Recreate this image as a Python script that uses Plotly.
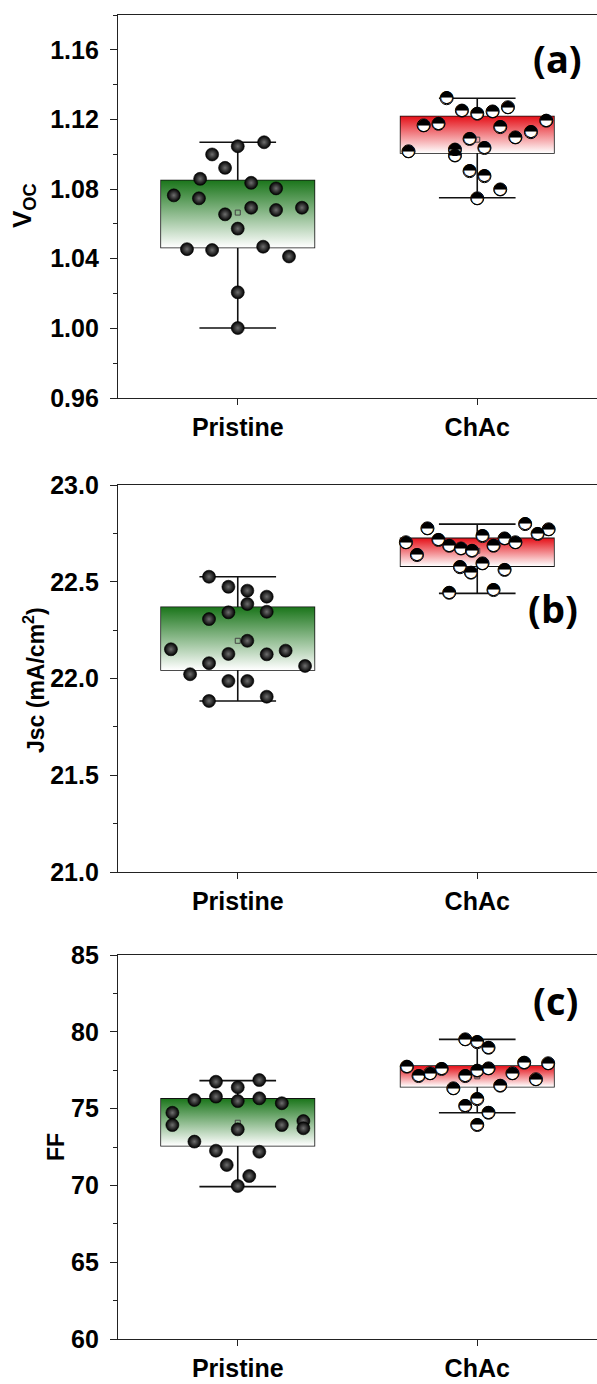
import plotly.graph_objects as go
from plotly.subplots import make_subplots

categories = ["Pristine", "ChAc"]
cat_pos = [1, 2]

# ---- Voc ----
voc_pristine = [1.1069, 1.1046, 1.0999, 1.0922, 1.0859, 1.0836, 1.0804, 1.0764, 1.0747, 1.0693,
                1.0680, 1.0693, 1.0655, 1.0573, 1.0455, 1.0450, 1.0469, 1.0413, 1.0207, 1.0002]
voc_pristine_jit = [0.110, 0.0, -0.107, -0.053, -0.157, 0.056, 0.160, -0.267, -0.162, 0.056,
                    0.160, 0.268, -0.053, 0.0, -0.212, -0.107, 0.106, 0.214, 0.0, 0.0]
voc_chac = [1.1322, 1.1251, 1.1233, 1.1246, 1.1270, 1.1166, 1.1175, 1.1156, 1.1193, 1.1127,
            1.1097, 1.1088, 1.1017, 1.1027, 1.0993, 1.1036, 1.0903, 1.0874, 1.0798, 1.0747]
voc_chac_jit = [-0.128, -0.064, 0.0, 0.064, 0.128, -0.224, -0.162, 0.096, 0.288, 0.224,
                0.159, -0.032, -0.287, -0.093, -0.093, 0.030, -0.032, 0.030, 0.096, 0.0]
voc_q1 = [1.0465, 1.1007]
voc_median = [1.0693, 1.1109]
voc_q3 = [1.0849, 1.1217]
voc_low = [1.0002, 1.0750]
voc_high = [1.1069, 1.1322]
voc_mean = [1.0665, 1.1084]

# ---- Jsc ----
jsc_pristine = [22.526, 22.474, 22.454, 22.423, 22.385, 22.342, 22.345, 22.307, 22.195, 22.151,
                22.127, 22.125, 22.144, 22.079, 22.065, 22.022, 21.987, 21.987, 21.884, 21.906]
jsc_pristine_jit = [-0.120, -0.039, 0.040, 0.121, 0.040, -0.039, 0.121, -0.120, 0.040, -0.279,
                    -0.039, 0.121, 0.200, -0.120, 0.281, -0.199, -0.039, 0.040, -0.120, 0.121]
jsc_chac = [22.776, 22.798, 22.771, 22.747, 22.704, 22.716, 22.736, 22.724, 22.704, 22.686,
            22.672, 22.660, 22.686, 22.638, 22.575, 22.547, 22.595, 22.561, 22.443, 22.457]
jsc_chac_jit = [-0.208, 0.200, 0.298, 0.252, -0.298, -0.162, 0.022, 0.114, 0.159, -0.117,
                -0.068, -0.022, 0.068, -0.252, -0.072, -0.026, 0.022, 0.114, -0.117, 0.068]
jsc_q1 = [22.044, 22.581]
jsc_median = [22.144, 22.686]
jsc_q3 = [22.368, 22.724]
jsc_low = [21.884, 22.440]
jsc_high = [22.526, 22.798]
jsc_mean = [22.195, 22.660]

# ---- FF ----
ff_pristine = [76.75, 76.86, 76.39, 75.56, 75.78, 75.49, 75.67, 75.35, 74.73, 73.93,
               73.65, 73.93, 74.19, 73.72, 72.85, 72.26, 72.19, 71.33, 70.61, 69.96]
ff_pristine_jit = [-0.091, 0.090, 0.0, -0.181, -0.091, 0.0, 0.090, 0.184, -0.273, -0.273,
                   0.0, 0.184, 0.274, 0.274, -0.181, -0.091, 0.090, -0.046, 0.048, 0.0]
ff_chac = [79.51, 79.32, 78.96, 77.73, 77.12, 77.30, 77.58, 77.12, 77.47, 77.62,
           77.30, 77.99, 77.95, 76.91, 76.32, 76.49, 75.61, 75.17, 74.73, 73.93]
ff_chac_jit = [-0.050, 0.0, 0.047, -0.294, -0.245, -0.197, -0.149, -0.050, 0.0, 0.047,
               0.147, 0.196, 0.296, 0.245, -0.100, 0.096, 0.0, -0.050, 0.047, 0.0]
ff_q1 = [72.58, 76.43]
ff_median = [74.00, 77.30]
ff_q3 = [75.63, 77.77]
ff_low = [69.92, 74.73]
ff_high = [76.82, 79.51]
ff_mean = [74.08, 77.10]

# ---- styling ----
FONT = "Liberation Sans, Arial, sans-serif"
BOX_W = 0.64
GREEN_SCALE = [[0, "#ffffff"], [1, "#1c761c"]]
RED_SCALE = [[0, "#ffffff"], [1, "#e5121a"]]
W, H = 597.0, 1384.0
ML = 118.0
PW = W - ML

fig = make_subplots(rows=3, cols=1)

panels = [
    (1, voc_pristine, voc_pristine_jit, voc_chac, voc_chac_jit, voc_q1, voc_median, voc_q3, voc_low, voc_high, voc_mean),
    (2, jsc_pristine, jsc_pristine_jit, jsc_chac, jsc_chac_jit, jsc_q1, jsc_median, jsc_q3, jsc_low, jsc_high, jsc_mean),
    (3, ff_pristine, ff_pristine_jit, ff_chac, ff_chac_jit, ff_q1, ff_median, ff_q3, ff_low, ff_high, ff_mean),
]

for row, p_vals, p_jit, c_vals, c_jit, q1, med, q3, lo, hi, mean in panels:
    for i, scale in enumerate([GREEN_SCALE, RED_SCALE]):
        c = cat_pos[i]
        hw = BOX_W / 2
        fig.add_trace(go.Scatter(
            x=[c - hw, c + hw, c + hw, c - hw, c - hw],
            y=[q1[i], q1[i], q3[i], q3[i], q1[i]],
            mode="lines", line=dict(width=0), fill="toself",
            fillgradient=dict(type="vertical", colorscale=scale),
            hoverinfo="skip"), row=row, col=1)
        fig.add_trace(go.Box(
            x=[c], q1=[q1[i]], median=[med[i]], q3=[q3[i]],
            lowerfence=[lo[i]], upperfence=[hi[i]],
            width=BOX_W, whiskerwidth=0.5, boxpoints=False,
            fillcolor="rgba(0,0,0,0)", line=dict(color="#111111", width=1.6)), row=row, col=1)
        fig.add_trace(go.Scatter(
            x=[c], y=[mean[i]], mode="markers",
            marker=dict(symbol="square-open", size=5, color="#444444", line=dict(width=1))),
            row=row, col=1)
    # pristine: shaded black spheres
    fig.add_trace(go.Scatter(
        x=[cat_pos[0] + j for j in p_jit], y=p_vals, mode="markers",
        marker=dict(size=13, color="#000000", gradient=dict(type="radial", color="#6e6e6e"),
                    line=dict(width=0.6, color="#000000"))), row=row, col=1)
    # ChAc: half black / half white circles
    cx = [cat_pos[1] + j for j in c_jit]
    fig.add_trace(go.Scatter(
        x=cx, y=c_vals, mode="markers",
        marker=dict(size=13, color="#ffffff", line=dict(width=1, color="#000000"))), row=row, col=1)
    fig.add_trace(go.Scatter(
        x=cx, y=c_vals, mode="text", text=["\u25d3"] * len(c_vals),
        textposition="middle center",
        textfont=dict(family="DejaVu Sans", size=17, color="#000000")), row=row, col=1)

domains = [(15, 398), (485, 872), (955, 1339)]
yranges = [(0.96, 1.18), (21.0, 23.0), (60, 85)]
ydticks = [0.04, 0.5, 5]
yformats = [".2f", ".1f", "d"]

for k in range(3):
    top, bot = domains[k]
    fig.update_xaxes(
        range=[0.5, 2.5], tickvals=cat_pos, ticktext=categories,
        ticks="outside", ticklen=6, tickwidth=1.3, tickcolor="#222222",
        showline=True, linecolor="#222222", linewidth=1.3, mirror=True,
        showgrid=False, zeroline=False, ticklabelstandoff=1,
        tickfont=dict(family=FONT, size=25, color="#000000", weight="bold"),
        row=k + 1, col=1)
    fig.update_yaxes(
        domain=[1 - bot / H, 1 - top / H],
        range=list(yranges[k]), dtick=ydticks[k], tick0=yranges[k][0], tickformat=yformats[k],
        ticks="outside", ticklen=7, tickwidth=1.3, tickcolor="#222222",
        minor=dict(ticks="outside", ticklen=4, dtick=ydticks[k] / 2, tickcolor="#222222", tickwidth=1.3),
        showline=True, linecolor="#222222", linewidth=1.3, mirror=False,
        showgrid=False, zeroline=False, ticklabelstandoff=6,
        tickfont=dict(family=FONT, size=25, color="#000000", weight="bold"),
        row=k + 1, col=1)

annots = [
    dict(text="V<sub>OC</sub>", x=24, y=206, size=26),
    dict(text="Jsc (mA/cm<sup>2</sup>)", x=34, y=680, size=23),
    dict(text="FF", x=56, y=1147, size=23),
]
for a in annots:
    fig.add_annotation(text=a["text"], x=(a["x"] - ML) / PW, y=1 - a["y"] / H, xref="paper", yref="paper",
                       xanchor="center", yanchor="middle", textangle=-90, showarrow=False,
                       font=dict(family=FONT, size=a["size"], color="#000000", weight="bold"))

for lab, x, y in [("(a)", 557, 58), ("(b)", 553, 608), ("(c)", 555, 1000)]:
    fig.add_annotation(text=lab, x=(x - ML) / PW, y=1 - y / H, xref="paper", yref="paper",
                       xanchor="center", yanchor="middle", showarrow=False,
                       font=dict(family="Open Sans, sans-serif", size=38, color="#000000", weight="bold"))

fig.update_layout(
    width=597, height=1384, margin=dict(l=118, r=0, t=0, b=0),
    paper_bgcolor="white", plot_bgcolor="white", showlegend=False,
    template="none",
)

fig.write_html("out.html")
